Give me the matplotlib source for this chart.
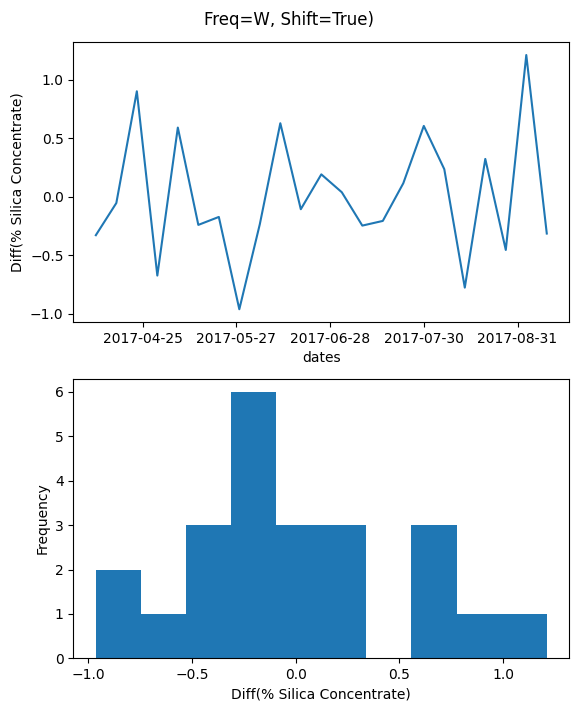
import matplotlib
matplotlib.use("Agg")
import matplotlib.pyplot as plt
import matplotlib.dates as mdates
import numpy as np
import pandas as pd

dates = pd.date_range("2017-04-09", "2017-09-10", freq="W")
diff_values = [-0.33, -0.055, 0.90, -0.675, 0.59, -0.242, -0.174, -0.963, -0.236,
               0.627, -0.108, 0.19, 0.037, -0.248, -0.208, 0.114, 0.604, 0.234,
               -0.778, 0.322, -0.456, 1.21, -0.316]
tick_dates = pd.to_datetime(["2017-04-25", "2017-05-27", "2017-06-28", "2017-07-30", "2017-08-31"])

fig, (ax1, ax2) = plt.subplots(2, 1, figsize=(5.78, 7.11), dpi=100)
fig.suptitle("Freq=W, Shift=True)", y=0.985)

ax1.plot(dates, diff_values, color="#1f77b4")
ax1.set_xticks(tick_dates)
ax1.xaxis.set_major_formatter(mdates.DateFormatter("%Y-%m-%d"))
ax1.set_xlabel("dates")
ax1.set_ylabel("Diff(% Silica Concentrate)")

ax2.hist(diff_values, bins=10, color="#1f77b4")
ax2.set_xlabel("Diff(% Silica Concentrate)")
ax2.set_ylabel("Frequency")

fig.subplots_adjust(left=0.1268, right=0.985, top=0.9405, bottom=0.0741, hspace=0.2027)
fig.savefig("out.png", dpi=100)
